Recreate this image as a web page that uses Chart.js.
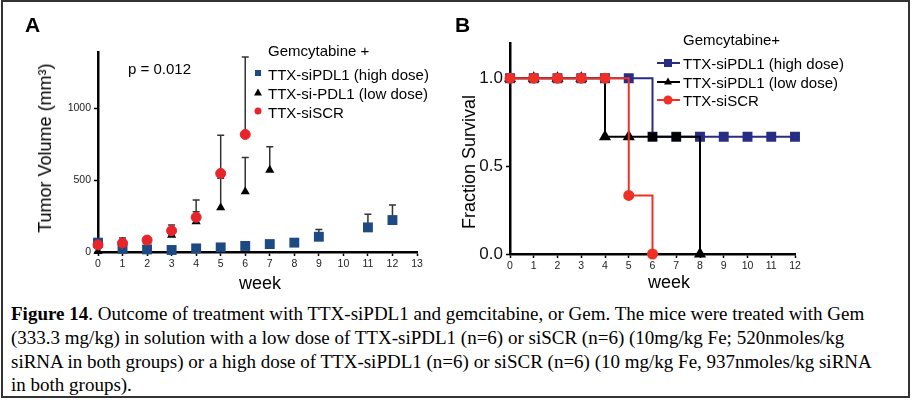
<!DOCTYPE html>
<html>
<head>
<meta charset="utf-8">
<script src="https://cdn.jsdelivr.net/npm/chart.js@4.4.1/dist/chart.umd.min.js"></script>
<style>
  html, body { margin: 0; padding: 0; background: #fff; }
  body { width: 912px; height: 400px; position: relative; overflow: hidden;
         font-family: "Liberation Sans", Arial, sans-serif; color: #000; }
  .frame { position: absolute; left: 1px; top: 0px; width: 909px; height: 398px;
           box-sizing: border-box; border: 2px solid #333; pointer-events: none; }
  .panel { position: absolute; top: 0; height: 300px; }
  #panelA { left: 0; width: 450px; }
  #panelB { left: 450px; width: 462px; }
  .txt { position: absolute; white-space: nowrap; line-height: 1; }
  .center { transform: translate(-50%, -50%); }
  .rot { transform: translate(-50%, -50%) rotate(-90deg); }
  .panelLabel { font-weight: bold; font-size: 21px; }
  .axisTitle { font-size: 18px; }
  .leg { font-size: 15px; }
  .mk { position: absolute; transform: translate(-50%, -50%); }
  .sq { width: 6px; height: 6px; }
  .ci { border-radius: 50%; }
  .tri { width: 0; height: 0; border-left: 4px solid transparent; border-right: 4px solid transparent; border-bottom: 7px solid #000; }
  .ln { position: absolute; height: 2px; transform: translateY(-50%); }
  .caption { position: absolute; left: 11px; top: 302px; font-family: "Liberation Serif", "Times New Roman", serif;
             font-size: 19px; line-height: 23.8px; white-space: nowrap; }
</style>
</head>
<body>
<div id="panelA" class="panel"><canvas id="chartA"></canvas></div>
<div id="panelB" class="panel"><canvas id="chartB"></canvas></div>

<!-- panel A text -->
<div class="txt panelLabel" style="left:25px; top:14px;">A</div>
<div class="txt leg" style="left:128px; top:61px;">p = 0.012</div>
<div class="txt axisTitle rot" style="left:45px; top:148px;">Tumor Volume (mm³)</div>
<div class="txt axisTitle center" style="left:260px; top:283px;">week</div>
<div class="txt leg" style="left:268px; top:43px;">Gemcytabine +</div>
<div class="mk sq" style="left:258px; top:73px; background:#1d4a82;"></div>
<div class="txt leg" style="left:268px; top:67px;">TTX-siPDL1 (high dose)</div>
<div class="mk tri" style="left:258px; top:92px;"></div>
<div class="txt leg" style="left:268px; top:86px;">TTX-si-PDL1 (low dose)</div>
<div class="mk sq ci" style="left:258px; top:111px; width:7px; height:7px; background:#e8242b;"></div>
<div class="txt leg" style="left:268px; top:105px;">TTX-siSCR</div>

<!-- panel B text -->
<div class="txt panelLabel" style="left:455px; top:14px;">B</div>
<div class="txt axisTitle rot" style="left:469px; top:162px;">Fraction Survival</div>
<div class="txt axisTitle center" style="left:669px; top:282px;">week</div>
<div class="txt leg" style="left:683px; top:32px;">Gemcytabine+</div>
<div class="ln" style="left:657px; top:63px; width:23px; background:#282d84;"></div>
<div class="mk sq" style="left:668px; top:63px; width:8px; height:8px; background:#282d84;"></div>
<div class="txt leg" style="left:683px; top:56px;">TTX-siPDL1 (high dose)</div>
<div class="ln" style="left:657px; top:82px; width:23px; background:#000;"></div>
<div class="mk tri" style="left:668px; top:81px;"></div>
<div class="txt leg" style="left:683px; top:75px;">TTX-siPDL1 (low dose)</div>
<div class="ln" style="left:657px; top:100px; width:23px; background:#ee3026;"></div>
<div class="mk sq ci" style="left:668px; top:100px; width:9px; height:9px; background:#ee3026;"></div>
<div class="txt leg" style="left:683px; top:93px;">TTX-siSCR</div>

<div class="caption"><b>Figure 14</b>. Outcome of treatment with TTX-siPDL1 and gemcitabine, or Gem. The mice were treated with Gem<br>(333.3 mg/kg) in solution with a low dose of TTX-siPDL1 (n=6) or siSCR (n=6) (10mg/kg Fe; 520nmoles/kg<br>siRNA in both groups) or a high dose of TTX-siPDL1 (n=6) or siSCR (n=6) (10 mg/kg Fe, 937nmoles/kg siRNA<br>in both groups).</div>

<div class="frame"></div>

<script>
// --- A: tumor volume (mm3) by week, upward error bars ---
const highWeeks = [0, 1, 2, 3, 4, 5, 6, 7, 8, 9, 11, 12];
const highVolume = [65, 22, 18, 14, 25, 32, 42, 55, 65, 106, 171, 222];
const highErr = [0, 0, 0, 0, 0, 0, 0, 0, 0, 51, 91, 104];

const lowWeeks = [0, 1, 2, 3, 4, 5, 6, 7];
const lowVolume = [5, 70, 75, 118, 211, 308, 419, 569];
const lowErr = [0, 27, 0, 69, 69, 204, 238, 162];

const scrWeeks = [0, 1, 2, 3, 4, 5, 6];
const scrVolume = [49, 62, 83, 148, 241, 546, 817];
const scrErr = [0, 0, 0, 0, 120, 266, 539];

const volumeTicks = [0, 500, 1000];

// --- B: fraction survival by week ---
const highSurvWeeks = [0, 1, 2, 3, 4, 5, 6, 7, 8, 9, 10, 11, 12];
const highSurv = [1, 1, 1, 1, 1, 1, 0.667, 0.667, 0.667, 0.667, 0.667, 0.667, 0.667];
const lowSurvWeeks = [0, 1, 2, 3, 4, 5, 6, 7, 8];
const lowSurv = [1, 1, 1, 1, 0.667, 0.667, 0.667, 0.667, 0];
const scrSurvWeeks = [0, 1, 2, 3, 4, 5, 6];
const scrSurv = [1, 1, 1, 1, 1, 0.333, 0];

const survTicks = [0, 0.5, 1.0];

const colors = { blueA: '#1d4a82', redA: '#e8242b', blueB: '#282d84', redB: '#ee3026' };

const toXY = (xs, ys) => xs.map((x, i) => ({ x: x, y: ys[i] }));

// error bars go under the markers
const errorBars = {
    id: 'errorBars',
    beforeDatasetsDraw(chart) {
        const { ctx, scales: { x, y } } = chart;
        ctx.save();
        ctx.strokeStyle = '#333';
        ctx.lineWidth = 1.5;
        chart.data.datasets.forEach(ds => {
            if (!ds.errors) return;
            ds.data.forEach((p, i) => {
                const e = ds.errors[i];
                if (!e) return;
                const px = x.getPixelForValue(p.x);
                const y0 = y.getPixelForValue(p.y);
                const y1 = y.getPixelForValue(p.y + e);
                ctx.beginPath();
                ctx.moveTo(px, y0); ctx.lineTo(px, y1);
                ctx.moveTo(px - 3.5, y1); ctx.lineTo(px + 3.5, y1);
                ctx.stroke();
            });
        });
        ctx.restore();
    }
};

// fixed scale sizes so the plot area lands where the original is
function fixX(h) {
    return s => { s.height = h; s.paddingLeft = 0; s.paddingRight = 0; };
}
function fixY(w) {
    return s => { s.width = w; s.paddingTop = 0; s.paddingBottom = 0; };
}
function useTicks(values) {
    return s => { s.ticks = values.map(v => ({ value: v })); };
}

function axis(extra) {
    return Object.assign({
        type: 'linear',
        grid: { drawOnChartArea: false, tickLength: 4, tickWidth: 1.5, color: '#000' },
        border: { display: true, width: 2.5, color: '#000' }
    }, extra);
}

new Chart(document.getElementById('chartA'), {
    type: 'scatter',
    data: {
        datasets: [
            { label: 'TTX-siSCR', data: toXY(scrWeeks, scrVolume), errors: scrErr,
              pointStyle: 'circle', pointRadius: 5, borderWidth: 1,
              backgroundColor: colors.redA, borderColor: colors.redA, order: 0, clip: false },
            { label: 'TTX-si-PDL1 (low dose)', data: toXY(lowWeeks, lowVolume), errors: lowErr,
              pointStyle: 'triangle', pointRadius: 5.3, borderWidth: 0,
              backgroundColor: '#000', borderColor: '#000', order: 1, clip: false },
            { label: 'TTX-siPDL1 (high dose)', data: toXY(highWeeks, highVolume), errors: highErr,
              pointStyle: 'rect', pointRadius: 7, borderWidth: 0,
              backgroundColor: colors.blueA, borderColor: colors.blueA, order: 2, clip: false }
        ]
    },
    options: {
        animation: false, responsive: true, maintainAspectRatio: false,
        layout: { padding: { left: 60, right: 33, top: 52, bottom: 28 } },
        plugins: { legend: { display: false }, tooltip: { enabled: false } },
        scales: {
            x: axis({ min: 0, max: 13, afterFit: fixX(20),
                      ticks: { stepSize: 1, padding: 2, color: '#222', font: { size: 10.5, family: 'Liberation Sans' } } }),
            y: axis({ min: 0, max: 1390, afterFit: fixY(38), afterBuildTicks: useTicks(volumeTicks),
                      ticks: { padding: 3, color: '#222', font: { size: 10.5, family: 'Liberation Sans' },
                               callback: v => String(v) } })
        }
    },
    plugins: [errorBars]
});

new Chart(document.getElementById('chartB'), {
    type: 'line',
    data: {
        datasets: [
            { label: 'TTX-siSCR', data: toXY(scrSurvWeeks, scrSurv), stepped: true,
              pointStyle: 'circle', pointRadius: 4.5, borderWidth: 2,
              backgroundColor: colors.redB, borderColor: colors.redB, order: 0, clip: false },
            { label: 'TTX-siPDL1 (low dose)', data: toXY(lowSurvWeeks, lowSurv), stepped: true,
              pointStyle: ['triangle', 'triangle', 'triangle', 'triangle', 'triangle', 'triangle', 'rect', 'rect', 'triangle'],
              pointRadius: 5, borderWidth: 2,
              backgroundColor: '#000', borderColor: '#000', order: 1, clip: false },
            { label: 'TTX-siPDL1 (high dose)', data: toXY(highSurvWeeks, highSurv), stepped: true,
              pointStyle: 'rect', pointRadius: 5.6, borderWidth: 2,
              backgroundColor: colors.blueB, borderColor: colors.blueB, order: 2, clip: false }
        ]
    },
    options: {
        animation: false, responsive: true, maintainAspectRatio: false,
        layout: { padding: { left: 20, right: 117, top: 43, bottom: 26 } },
        plugins: { legend: { display: false }, tooltip: { enabled: false } },
        scales: {
            x: axis({ min: 0, max: 12, afterFit: fixX(20),
                      ticks: { stepSize: 1, padding: 2, color: '#222', font: { size: 10.5, family: 'Liberation Sans' } } }),
            y: axis({ min: 0, max: 1.2, afterFit: fixY(40), afterBuildTicks: useTicks(survTicks),
                      ticks: { padding: 3, color: '#111',
                               font: { size: 17, family: 'Liberation Sans' },
                               callback: v => v.toFixed(1) } })
        }
    }
});
</script>
</body>
</html>
